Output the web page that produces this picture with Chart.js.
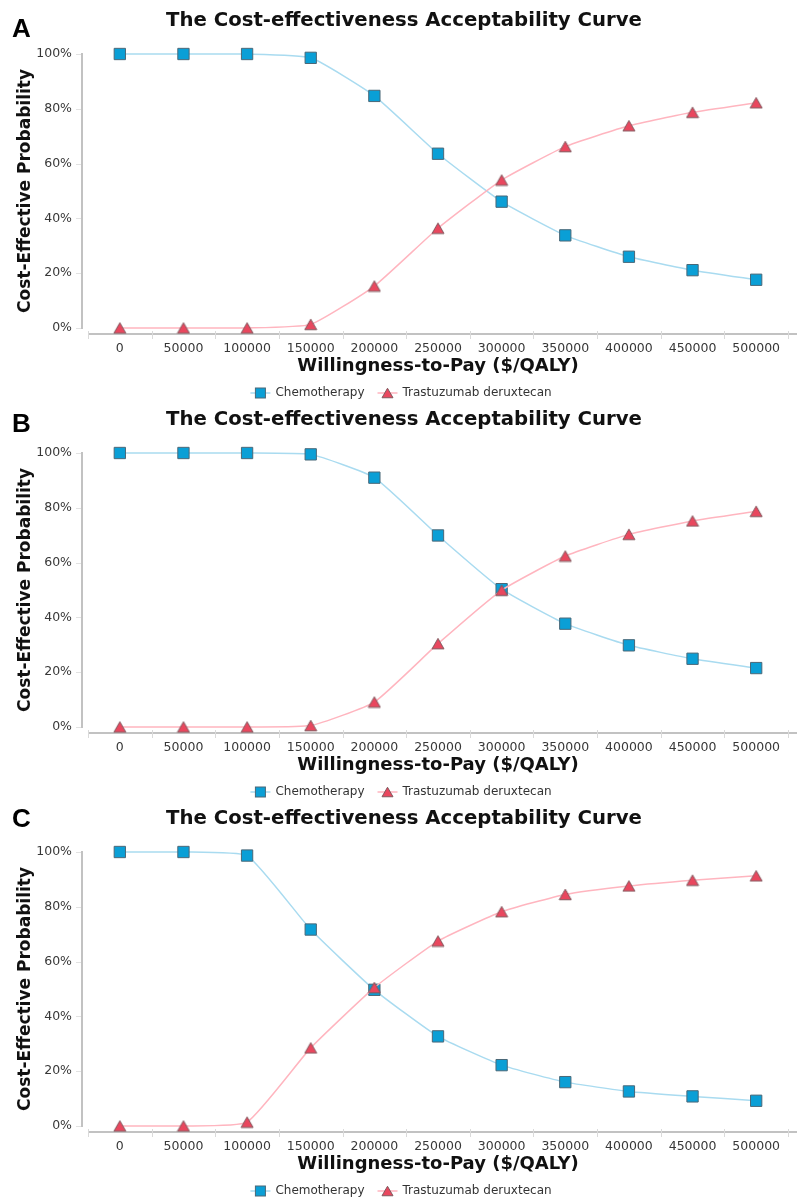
<!DOCTYPE html>
<html><head><meta charset="utf-8">
<script src="https://cdn.jsdelivr.net/npm/chart.js@4.4.0/dist/chart.umd.min.js"></script>
<style>
html,body{margin:0;padding:0;background:#fff;}
.panel{position:relative;width:797px;}
canvas{display:block;}
</style></head><body>
<div class="panel"><canvas id="cA" width="797" height="399"></canvas></div>
<div class="panel"><canvas id="cB" width="797" height="399"></canvas></div>
<div class="panel"><canvas id="cC" width="797" height="400"></canvas></div>
<script>
// ---- data ----
const wtpLabels = ['0','50000','100000','150000','200000','250000','300000','350000','400000','450000','500000'];
const yTickValues = [0, 20, 40, 60, 80, 100];
const seriesNames = ['Chemotherapy', 'Trastuzumab deruxtecan'];
const chemoA = [100, 100, 100, 98.6, 84.7, 63.6, 46.1, 33.8, 26.0, 21.1, 17.6];
const trastA = [0, 0, 0, 1.3, 15.3, 36.4, 54.0, 66.2, 73.8, 78.7, 82.2];
const chemoB = [100, 100, 100, 99.5, 91.0, 69.9, 50.3, 37.7, 29.8, 24.9, 21.5];
const trastB = [0, 0, 0, 0.5, 9.1, 30.4, 49.9, 62.4, 70.3, 75.2, 78.7];
const chemoC = [100, 100, 98.7, 71.7, 49.7, 32.7, 22.2, 16.0, 12.6, 10.8, 9.2];
const trastC = [0, 0, 1.4, 28.5, 50.5, 67.5, 78.2, 84.5, 87.6, 89.7, 91.3];
const panelLetters = ['A', 'B', 'C'];
const chartTitle = 'The Cost-effectiveness Acceptability Curve';
const xTitle = 'Willingness-to-Pay ($/QALY)';
const yTitle = 'Cost-Effective Probability';

// ---- styles ----
const FONT = "'DejaVu Sans', Verdana, sans-serif";
const CHEMO = {fill:'#0a9fd6', border:'#4a6878', line:'#a9dbf0'};
const TRAST = {fill:'#e9475e', border:'#80585e', line:'#ffb5bf'};
const letterBaselines = [37, 33, 29];

function drawSquare(ctx, x, y, s, st){
  ctx.fillStyle = st.fill; ctx.strokeStyle = st.border; ctx.lineWidth = 1;
  ctx.fillRect(x - s/2, y - s/2, s, s);
  ctx.strokeRect(x - s/2, y - s/2, s, s);
}
// triangle whose bounding box is centred on (x, y)
function drawTriBox(ctx, x, y, w, hgt, st){
  ctx.fillStyle = st.fill; ctx.strokeStyle = st.border; ctx.lineWidth = 1;
  ctx.beginPath();
  ctx.moveTo(x, y - hgt/2);
  ctx.lineTo(x + w/2, y + hgt/2);
  ctx.lineTo(x - w/2, y + hgt/2);
  ctx.closePath(); ctx.fill(); ctx.stroke();
}
function makeTriImage(){
  const c = document.createElement('canvas');
  c.width = 14; c.height = 13;
  drawTriBox(c.getContext('2d'), 7, 6.5, 12, 10.5, TRAST);
  return c;
}
const triImg = makeTriImage();

function decorPlugin(letter, letterBase){
  return {
    id: 'decor',
    beforeDatasetsDraw(chart){
      const ctx = chart.ctx, y = chart.scales.y, ca = chart.chartArea;
      ctx.save();
      const y0 = y.getPixelForValue(0), y100 = y.getPixelForValue(100);
      ctx.strokeStyle = '#c2c2c2'; ctx.lineWidth = 2;
      ctx.beginPath(); ctx.moveTo(ca.left - 6, y100 - 1); ctx.lineTo(ca.left - 6, y0 + 1); ctx.stroke();
      ctx.strokeStyle = '#e2e2e2'; ctx.lineWidth = 1;
      yTickValues.forEach(v => {
        const p = Math.round(y.getPixelForValue(v)) + 0.5;
        ctx.beginPath(); ctx.moveTo(ca.left - 12, p); ctx.lineTo(ca.left - 7, p); ctx.stroke();
      });
      ctx.strokeStyle = '#c2c2c2'; ctx.lineWidth = 2;
      ctx.beginPath(); ctx.moveTo(ca.left, ca.bottom); ctx.lineTo(chart.width, ca.bottom); ctx.stroke();
      const n = wtpLabels.length, step = (ca.right - ca.left) / n;
      ctx.strokeStyle = '#dadada'; ctx.lineWidth = 1;
      for (let i = 0; i <= n; i++){
        const p = Math.round(ca.left + i*step) + 0.5;
        ctx.beginPath(); ctx.moveTo(p, ca.bottom - 3); ctx.lineTo(p, ca.bottom + 5); ctx.stroke();
      }
      ctx.restore();
    },
    afterDraw(chart){
      const ctx = chart.ctx, ca = chart.chartArea, y = chart.scales.y;
      ctx.save();
      ctx.fillStyle = '#000';
      ctx.font = "bold 26px 'Liberation Sans', Arial, sans-serif";
      ctx.textAlign = 'left'; ctx.textBaseline = 'alphabetic';
      ctx.fillText(letter, 12, letterBase);
      ctx.font = 'bold 19.7px ' + FONT;
      ctx.textAlign = 'center'; ctx.textBaseline = 'middle';
      ctx.fillStyle = '#111';
      ctx.fillText(chartTitle, 404, 21);
      ctx.font = 'bold 18px ' + FONT;
      ctx.fillText(xTitle, (ca.left + ca.right)/2, ca.bottom + 32);
      const yc = (y.getPixelForValue(0) + y.getPixelForValue(100)) / 2;
      ctx.save();
      ctx.font = 'bold 17px ' + FONT;
      ctx.translate(26, yc); ctx.rotate(-Math.PI/2);
      ctx.fillText(yTitle, 0, 0);
      ctx.restore();
      ctx.font = '12px ' + FONT;
      ctx.textAlign = 'left';
      const segW = 20, gapT = 5, gapI = 13;
      const w1 = ctx.measureText(seriesNames[0]).width, w2 = ctx.measureText(seriesNames[1]).width;
      const total = segW + gapT + w1 + gapI + segW + gapT + w2;
      let lx = 401 - total/2;
      const ly = ca.bottom + 59;
      const items = [[seriesNames[0], CHEMO, 'sq', w1], [seriesNames[1], TRAST, 'tri', w2]];
      items.forEach(([name, st, shape, w]) => {
        ctx.strokeStyle = st.line; ctx.lineWidth = 1.5;
        ctx.beginPath(); ctx.moveTo(lx, ly); ctx.lineTo(lx + segW, ly); ctx.stroke();
        if (shape === 'sq') drawSquare(ctx, lx + segW/2, ly, 10, st);
        else drawTriBox(ctx, lx + segW/2, ly, 11, 9.5, st);
        ctx.fillStyle = '#333';
        ctx.fillText(name, lx + segW + gapT, ly);
        lx += segW + gapT + w + gapI;
      });
      ctx.restore();
    }
  };
}

function makeChart(id, chemo, trast, letter, letterBase){
  const canvas = document.getElementById(id);
  const h = canvas.height;
  return new Chart(canvas, {
    type: 'line',
    data: {
      labels: wtpLabels,
      datasets: [
        { label: seriesNames[0], data: chemo, order: 1, clip: false,
          borderColor: CHEMO.line, borderWidth: 1.5, tension: 0.15,
          pointStyle: 'rect', pointRadius: 8, pointBackgroundColor: CHEMO.fill,
          pointBorderColor: CHEMO.border, pointBorderWidth: 1, fill: false },
        { label: seriesNames[1], data: trast, order: 0, clip: false,
          borderColor: TRAST.line, borderWidth: 1.5, tension: 0.15,
          pointStyle: triImg, pointRadius: 7, pointBackgroundColor: TRAST.fill,
          pointBorderColor: TRAST.border, pointBorderWidth: 1, fill: false }
      ]
    },
    options: {
      responsive: false, animation: false,
      layout: { padding: { top: 54, right: 2, left: 0, bottom: 0 } },
      plugins: { legend: { display: false }, tooltip: { enabled: false }, title: { display: false } },
      scales: {
        x: {
          type: 'category', offset: true,
          grid: { display: false, drawTicks: false }, border: { display: false },
          ticks: { color: '#383838', font: { family: FONT, size: 12.5 }, padding: 7, maxRotation: 0, autoSkip: false },
          afterFit(s){ s.height = h - 334; }
        },
        y: {
          min: -2.2, max: 100,
          grid: { display: false, drawTicks: false }, border: { display: false },
          ticks: { color: '#383838', font: { family: FONT, size: 12.5 }, padding: 16,
                   callback: v => v + '%' },
          afterBuildTicks(s){ s.ticks = yTickValues.map(v => ({ value: v })); },
          afterFit(s){ s.width = 88; }
        }
      }
    },
    plugins: [decorPlugin(letter, letterBase)]
  });
}

makeChart('cA', chemoA, trastA, panelLetters[0], letterBaselines[0]);
makeChart('cB', chemoB, trastB, panelLetters[1], letterBaselines[1]);
makeChart('cC', chemoC, trastC, panelLetters[2], letterBaselines[2]);
</script>
</body></html>
